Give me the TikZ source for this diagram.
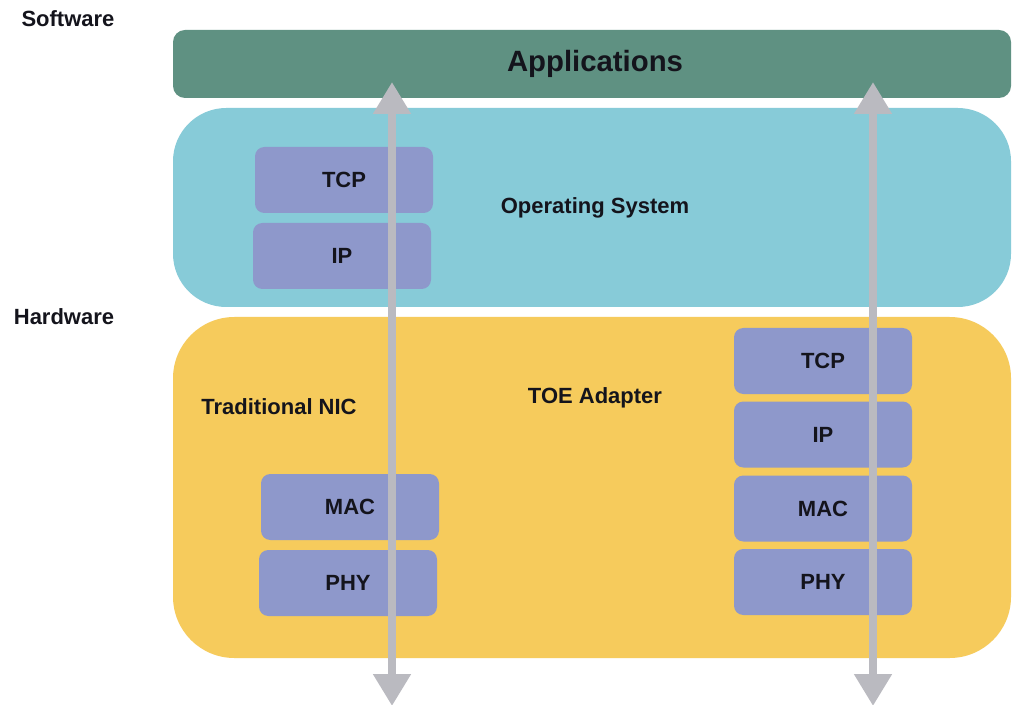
\documentclass[tikz,border=0pt]{standalone}
\usepackage{fontspec}
\setmainfont{Liberation Sans}
\usetikzlibrary{arrows.meta}
\definecolor{appcol}{RGB}{95,145,130}
\definecolor{oscol}{RGB}{135,203,216}
\definecolor{hwcol}{RGB}{246,203,92}
\definecolor{layercol}{RGB}{142,152,203}
\definecolor{arrowcol}{RGB}{186,186,192}
\definecolor{txtcol}{RGB}{20,20,28}
\tikzset{
  lbl/.style={text=txtcol, font=\fontsize{16.5}{19}\selectfont\bfseries, inner sep=0pt, anchor=base},
  band/.style={draw=none, minimum width=628.5pt, inner sep=0pt},
  layerbox/.style={fill=layercol, rounded corners=7pt, minimum width=133.5pt, minimum height=49.5pt,
    inner sep=0pt, text=txtcol, font=\fontsize{16.5}{19}\selectfont\bfseries},
  flow/.style={draw=arrowcol, line width=6pt, {Triangle[width=27pt,length=24pt]}-{Triangle[width=27pt,length=24pt]}}
}
\begin{document}
\begin{tikzpicture}[x=0.75pt,y=-0.75pt]
\useasboundingbox[fill=white] (0,0) rectangle (1012,705);
% bands
\node[band, fill=appcol, rounded corners=9pt, minimum height=51pt] (apps) at (592,64) {};
\node[band, fill=oscol, rounded corners=40pt, minimum height=149.25pt] (os) at (592,207.5) {};
\node[band, fill=hwcol, rounded corners=46pt, minimum height=255.75pt] (hw) at (592,487.5) {};
% labels
\node[lbl] (sw) at (68,27) {Software};
\node[lbl] (hwl) at (64,325) {Hardware};
\node[lbl, font=\fontsize{22}{26}\selectfont\bfseries] (appl) at (595,72) {Applications};
\node[lbl] (osl) at (595,214) {Operating System};
\node[lbl] (nicl) at (279,414) {Traditional NIC};
\node[lbl] (toel) at (595,403) {TOE Adapter};
% OS stack
\node[layerbox] (ostcp) at (344,180) {TCP};
\node[layerbox] (osip) at (342,256) {IP};
% NIC stack
\node[layerbox] (nicmac) at (350,507) {MAC};
\node[layerbox] (nicphy) at (348,583) {PHY};
% TOE stack
\node[layerbox] (toetcp) at (823,361) {TCP};
\node[layerbox] (toeip) at (823,434.5) {IP};
\node[layerbox] (toemac) at (823,508.5) {MAC};
\node[layerbox] (toephy) at (823,582) {PHY};
% arrows
\coordinate (lt) at (392,82);
\coordinate (lb) at (392,706);
\coordinate (rt) at (873,82);
\coordinate (rb) at (873,706);
\draw[flow] (lt) -- (lb);
\draw[flow] (rt) -- (rb);
\end{tikzpicture}
\end{document}
